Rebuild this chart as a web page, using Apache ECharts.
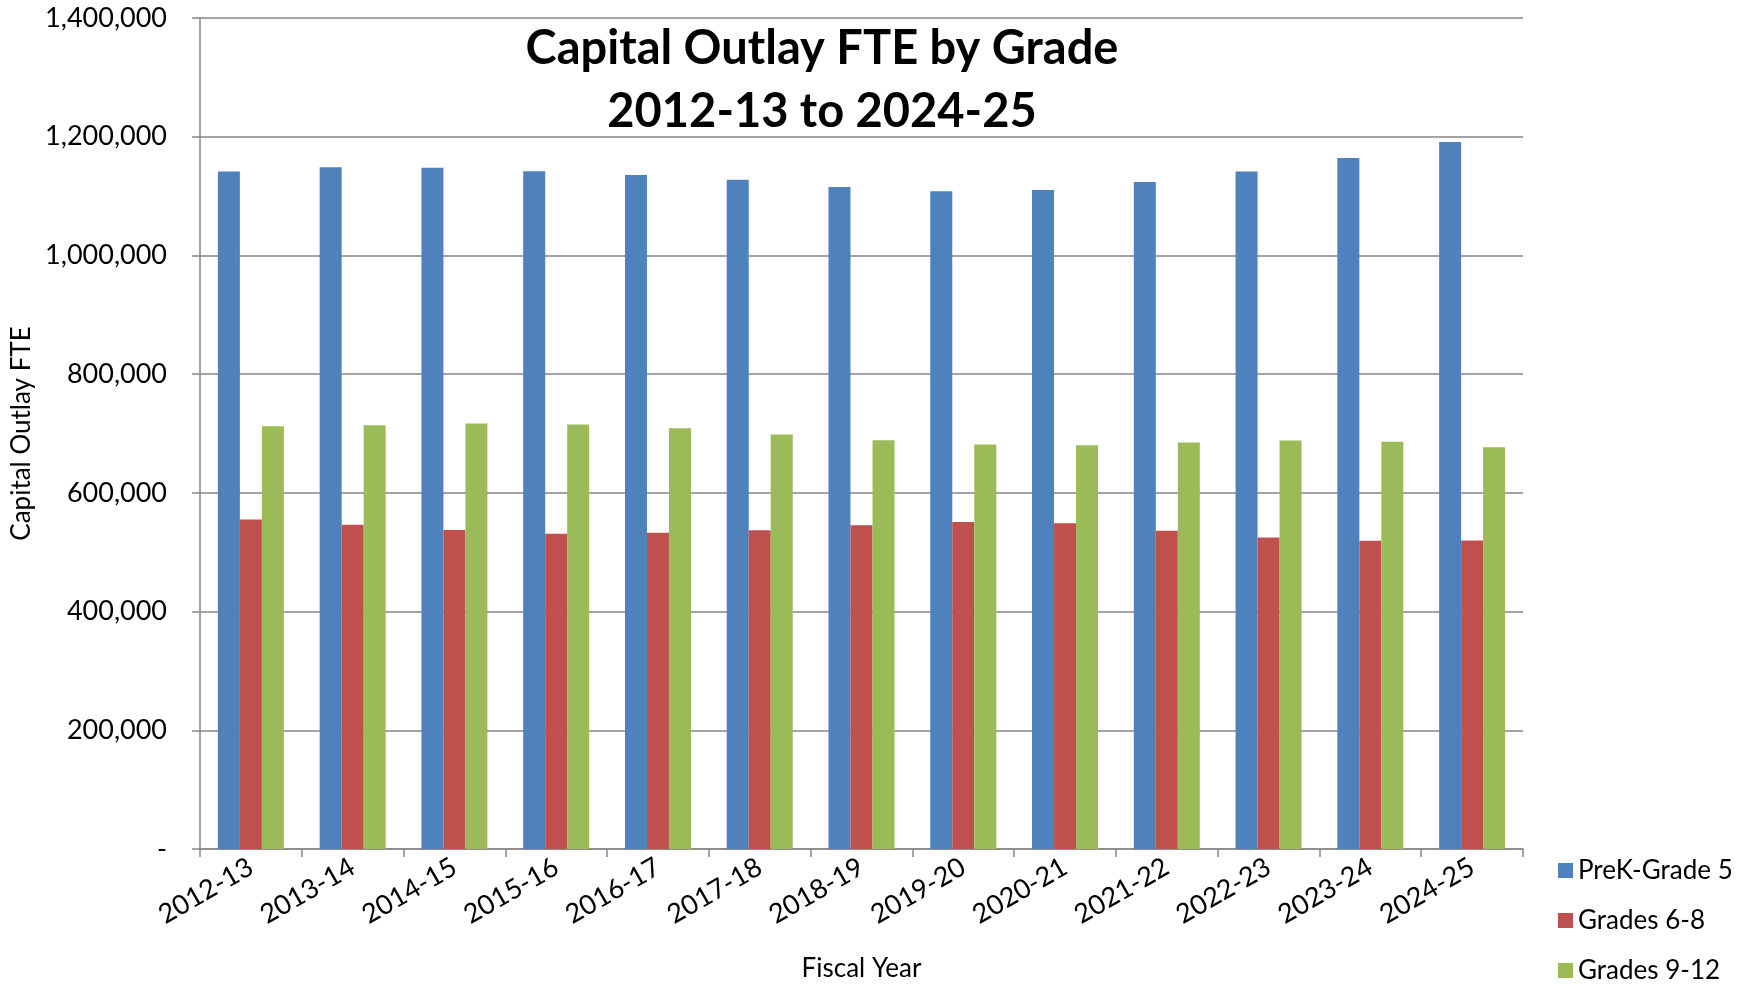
<!DOCTYPE html>
<html>
<head>
<meta charset="utf-8">
<title>Capital Outlay FTE by Grade</title>
<script src="https://cdn.jsdelivr.net/npm/echarts@6/dist/echarts.min.js"></script>
<style>
  html, body { margin: 0; padding: 0; background: #fff; }
  #main { width: 1737px; height: 989px; }
</style>
</head>
<body>
<div id="main"></div>
<script>
// data
var years = ['2012-13', '2013-14', '2014-15', '2015-16', '2016-17', '2017-18', '2018-19',
             '2019-20', '2020-21', '2021-22', '2022-23', '2023-24', '2024-25'];
var prekGrade5 = [1141500, 1148600, 1147900, 1141800, 1135600, 1127700, 1115400,
                  1108200, 1110300, 1123800, 1141300, 1164200, 1191200];
var grades6to8 = [555100, 546200, 537600, 530900, 532700, 537200, 545500,
                  551100, 548900, 536000, 524700, 519200, 519600];
var grades9to12 = [712300, 714000, 716700, 715100, 708800, 698300, 688700,
                   681300, 680300, 684700, 688200, 685900, 677000];
var yTicks = [0, 200000, 400000, 600000, 800000, 1000000, 1200000, 1400000];

var font = 'Lato, "Open Sans", sans-serif';
var gridColor = '#868686';

var myChart = echarts.init(document.getElementById('main'));

myChart.setOption({
    animation: false,
    textStyle: { fontFamily: font },
    title: {
        text: 'Capital Outlay FTE by Grade\n2012-13 to 2024-25',
        left: 817,
        top: 12,
        textAlign: 'center',
        textStyle: {
            fontFamily: font,
            fontSize: 47,
            fontWeight: 'bold',
            color: '#000',
            lineHeight: 63
        }
    },
    legend: {
        orient: 'vertical',
        left: 1558,
        top: 856,
        padding: 0,
        itemWidth: 15,
        itemHeight: 15,
        itemGap: 21,
        icon: 'rect',
        data: ['PreK-Grade 5', 'Grades 6-8', 'Grades 9-12'],
        textStyle: { fontFamily: font, fontSize: 26, color: '#000', lineHeight: 29 }
    },
    grid: {
        left: 200,
        right: 214,
        top: 18,
        bottom: 140,
        outerBoundsMode: 'none'
    },
    xAxis: {
        type: 'category',
        data: years,
        name: 'Fiscal Year',
        nameLocation: 'middle',
        nameGap: 107,
        nameTextStyle: { fontFamily: font, fontSize: 26, color: '#000' },
        axisLine: { lineStyle: { color: gridColor, width: 1.5 } },
        axisTick: { show: true, length: 8, lineStyle: { color: gridColor, width: 1.5 } },
        axisLabel: {
            rotate: 30,
            margin: 16,
            fontSize: 27,
            color: '#000',
            fontFamily: font
        }
    },
    yAxis: {
        type: 'value',
        min: yTicks[0],
        max: yTicks[yTicks.length - 1],
        interval: 200000,
        name: 'Capital Outlay FTE',
        nameLocation: 'middle',
        nameGap: 164,
        nameRotate: 90,
        nameTextStyle: { fontFamily: font, fontSize: 26, color: '#000' },
        axisLine: { show: true, lineStyle: { color: gridColor, width: 1.5 } },
        axisTick: { show: true, length: 8, lineStyle: { color: gridColor, width: 1.5 } },
        splitLine: { lineStyle: { color: gridColor, width: 1.5 } },
        axisLabel: {
            margin: 33,
            fontSize: 27,
            color: '#000',
            fontFamily: font,
            formatter: function (v) {
                return v === 0 ? '-' : v.toLocaleString('en-US');
            }
        }
    },
    series: [{
        name: 'PreK-Grade 5',
        type: 'bar',
        data: prekGrade5,
        barWidth: 22,
        barGap: '0%',
        itemStyle: { color: '#4F81BD' }
    }, {
        name: 'Grades 6-8',
        type: 'bar',
        data: grades6to8,
        barWidth: 22,
        barGap: '0%',
        itemStyle: { color: '#C0504D' }
    }, {
        name: 'Grades 9-12',
        type: 'bar',
        data: grades9to12,
        barWidth: 22,
        barGap: '0%',
        itemStyle: { color: '#9BBB59' }
    }]
});
</script>
</body>
</html>
